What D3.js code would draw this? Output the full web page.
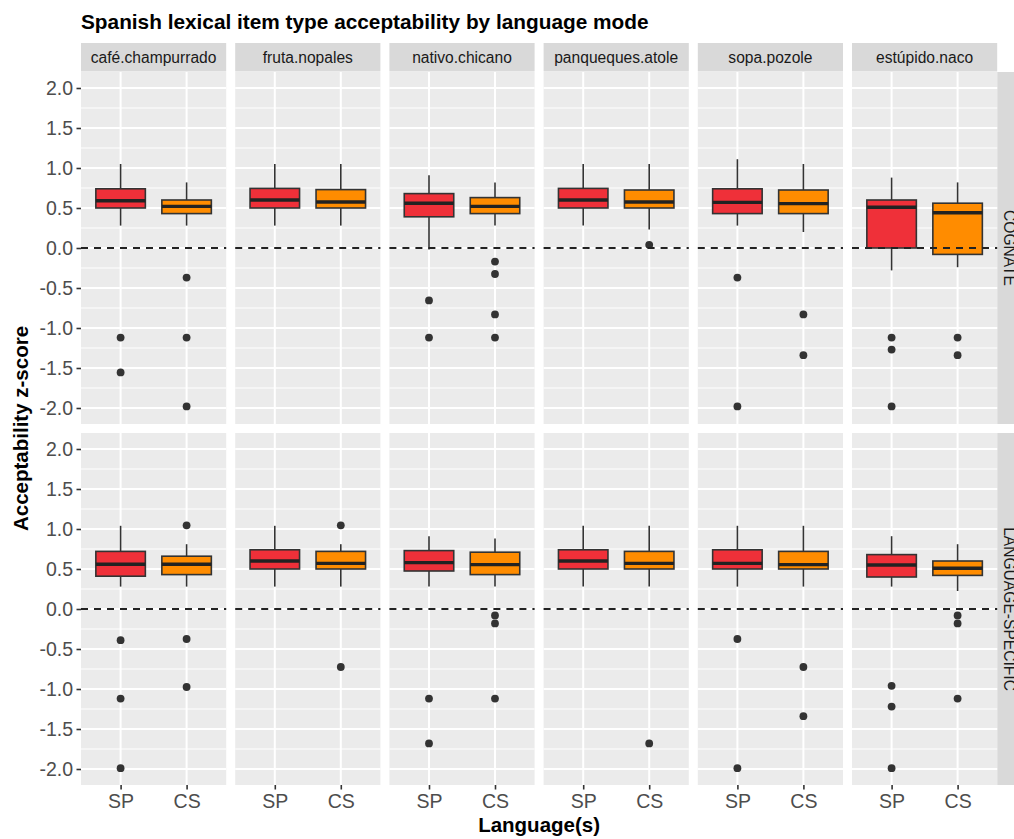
<!DOCTYPE html>
<html>
<head>
<meta charset="utf-8">
<script src="https://cdn.jsdelivr.net/npm/d3@7/dist/d3.min.js"></script>
<style>
  body { margin: 0; background: #fff; }
  text { font-family: "Liberation Sans", Arial, sans-serif; }
</style>
</head>
<body>
<svg width="1014" height="839"></svg>
<script>
const items = ['café.champurrado', 'fruta.nopales', 'nativo.chicano', 'panqueques.atole', 'sopa.pozole', 'estúpido.naco'];
const languages = ['SP', 'CS'];
const itemTypes = ['COGNATE', 'LANGUAGE-SPECIFIC'];
const yTicks = [-2, -1.5, -1, -0.5, 0, 0.5, 1, 1.5, 2];

// [lower whisker, q1, median, q3, upper whisker], one per item
const cognateSP = [
    [0.28, 0.50, 0.59, 0.74, 1.05],
    [0.28, 0.50, 0.60, 0.745, 1.05],
    [-0.02, 0.39, 0.56, 0.68, 0.91],
    [0.28, 0.50, 0.60, 0.745, 1.05],
    [0.28, 0.43, 0.57, 0.74, 1.11],
    [-0.28, 0.0, 0.51, 0.60, 0.88]
];
const cognateCS = [
    [0.28, 0.43, 0.52, 0.60, 0.82],
    [0.28, 0.50, 0.575, 0.73, 1.05],
    [0.28, 0.43, 0.52, 0.63, 0.82],
    [0.23, 0.50, 0.575, 0.725, 1.05],
    [0.20, 0.43, 0.555, 0.725, 1.05],
    [-0.24, -0.08, 0.44, 0.56, 0.82]
];
const specificSP = [
    [0.28, 0.41, 0.56, 0.72, 1.04],
    [0.28, 0.50, 0.60, 0.74, 1.04],
    [0.28, 0.475, 0.58, 0.73, 0.91],
    [0.28, 0.50, 0.60, 0.74, 1.04],
    [0.28, 0.50, 0.57, 0.74, 1.04],
    [0.28, 0.40, 0.55, 0.68, 0.91]
];
const specificCS = [
    [0.28, 0.43, 0.56, 0.66, 0.81],
    [0.28, 0.50, 0.57, 0.72, 0.81],
    [0.28, 0.43, 0.555, 0.71, 0.88],
    [0.28, 0.50, 0.57, 0.72, 1.04],
    [0.28, 0.50, 0.555, 0.72, 1.04],
    [0.225, 0.42, 0.51, 0.60, 0.81]
];

// outliers per item
const cognateSPOut = [[-1.12, -1.555], [], [-0.655, -1.12], [], [-0.37, -1.98], [-1.12, -1.27, -1.98]];
const cognateCSOut = [[-0.37, -1.12, -1.98], [], [-0.17, -0.325, -0.83, -1.12], [0.04], [-0.83, -1.34], [-1.12, -1.34]];
const specificSPOut = [[-0.39, -1.12, -1.99], [], [-1.12, -1.68], [], [-0.375, -1.99], [-0.96, -1.22, -1.99]];
const specificCSOut = [[1.046, -0.375, -0.975], [1.046, -0.725], [-0.08, -0.18, -1.12], [-1.68], [-0.725, -1.34], [-0.08, -0.18, -1.12]];

const stats = [[cognateSP, cognateCS], [specificSP, specificCS]];
const outliers = [[cognateSPOut, cognateCSOut], [specificSPOut, specificCSOut]];
const fills = { SP: '#EF3039', CS: '#FF8C00' };

const svgWidth = 1014;
const svgHeight = 839;
const left = 81;
const panelW = 145.2;
const gapX = 9;
const panelH = 352;
const rowTop = [72, 433];
const stripTop = 43;

const svg = d3.select('svg')
    .attr('width', svgWidth)
    .attr('height', svgHeight);

svg.append('rect')
    .attr('width', svgWidth)
    .attr('height', svgHeight)
    .attr('fill', '#fff');

const xScale = d3.scalePoint()
    .domain(languages)
    .range([0, panelW])
    .padding(0.6);

const yScale = d3.scaleLinear()
    .domain([-2.2, 2.2])
    .range([panelH, 0]);

const minorTicks = d3.range(-1.75, 2, 0.5);
const boxW = xScale.step() * 0.75;

// title
svg.append('text')
    .attr('x', left)
    .attr('y', 29)
    .attr('font-size', '20.8px')
    .attr('font-weight', 'bold')
    .attr('fill', '#000')
    .text('Spanish lexical item type acceptability by language mode');

// top strips
items.forEach((item, i) => {
    const px = left + i * (panelW + gapX);
    svg.append('rect')
        .attr('x', px)
        .attr('y', stripTop)
        .attr('width', panelW)
        .attr('height', 28.5)
        .attr('fill', '#D9D9D9');
    svg.append('text')
        .attr('x', px + panelW / 2)
        .attr('y', 63)
        .attr('text-anchor', 'middle')
        .attr('font-size', '15.6px')
        .attr('fill', '#1A1A1A')
        .text(item);
});

itemTypes.forEach((type, r) => {
    const py = rowTop[r];

    // right strip (cut by the page edge, as in the source figure)
    svg.append('rect')
        .attr('x', left + 6 * panelW + 5 * gapX)
        .attr('y', py)
        .attr('width', 29)
        .attr('height', panelH)
        .attr('fill', '#D9D9D9');
    svg.append('text')
        .attr('transform', `translate(1003.5, ${py + panelH / 2}) rotate(90)`)
        .attr('text-anchor', 'middle')
        .attr('font-size', '15.6px')
        .attr('fill', '#1A1A1A')
        .text(type);

    items.forEach((item, i) => {
        const px = left + i * (panelW + gapX);
        const g = svg.append('g')
            .attr('transform', `translate(${px}, ${py})`);

        g.append('rect')
            .attr('width', panelW)
            .attr('height', panelH)
            .attr('fill', '#EBEBEB');

        g.selectAll('.minor')
            .data(minorTicks)
            .enter().append('line')
            .attr('x1', 0)
            .attr('x2', panelW)
            .attr('y1', d => yScale(d))
            .attr('y2', d => yScale(d))
            .attr('stroke', '#fff')
            .attr('stroke-width', 1);

        g.selectAll('.major')
            .data(yTicks)
            .enter().append('line')
            .attr('x1', 0)
            .attr('x2', panelW)
            .attr('y1', d => yScale(d))
            .attr('y2', d => yScale(d))
            .attr('stroke', '#fff')
            .attr('stroke-width', 2);

        g.selectAll('.vmajor')
            .data(languages)
            .enter().append('line')
            .attr('x1', d => xScale(d))
            .attr('x2', d => xScale(d))
            .attr('y1', 0)
            .attr('y2', panelH)
            .attr('stroke', '#fff')
            .attr('stroke-width', 2);

        languages.forEach((lang, l) => {
            const s = stats[r][l][i];
            const cx = xScale(lang);

            g.append('line')
                .attr('x1', cx).attr('x2', cx)
                .attr('y1', yScale(s[4])).attr('y2', yScale(s[3]))
                .attr('stroke', '#333').attr('stroke-width', 1.6);
            g.append('line')
                .attr('x1', cx).attr('x2', cx)
                .attr('y1', yScale(s[1])).attr('y2', yScale(s[0]))
                .attr('stroke', '#333').attr('stroke-width', 1.6);

            g.append('rect')
                .attr('x', cx - boxW / 2)
                .attr('y', yScale(s[3]))
                .attr('width', boxW)
                .attr('height', yScale(s[1]) - yScale(s[3]))
                .attr('fill', fills[lang])
                .attr('stroke', '#333')
                .attr('stroke-width', 1.6);

            g.append('line')
                .attr('x1', cx - boxW / 2).attr('x2', cx + boxW / 2)
                .attr('y1', yScale(s[2])).attr('y2', yScale(s[2]))
                .attr('stroke', '#222').attr('stroke-width', 3.4);

            g.selectAll('.out' + l)
                .data(outliers[r][l][i])
                .enter().append('circle')
                .attr('cx', cx)
                .attr('cy', d => yScale(d))
                .attr('r', 3.9)
                .attr('fill', '#333');
        });

        g.append('line')
            .attr('x1', 0)
            .attr('x2', panelW)
            .attr('y1', yScale(0))
            .attr('y2', yScale(0))
            .attr('stroke', '#222')
            .attr('stroke-width', 2.2)
            .attr('stroke-dasharray', '7,6');

        if (r === 1) {
            const xAxis = g.append('g')
                .attr('transform', `translate(0, ${panelH})`)
                .call(d3.axisBottom(xScale).tickSize(4.5).tickPadding(5));
            xAxis.select('.domain').remove();
            xAxis.selectAll('line').attr('stroke', '#333').attr('stroke-width', 1.6);
            xAxis.selectAll('text')
                .attr('font-family', '"Liberation Sans", Arial, sans-serif')
                .attr('font-size', '19.5px')
                .attr('fill', '#4D4D4D');
        }
    });

    const yAxis = svg.append('g')
        .attr('transform', `translate(${left}, ${py})`)
        .call(d3.axisLeft(yScale).tickValues(yTicks).tickFormat(d3.format('.1f')).tickSize(4.5).tickPadding(3.5));
    yAxis.select('.domain').remove();
    yAxis.selectAll('line').attr('stroke', '#333').attr('stroke-width', 1.6);
    yAxis.selectAll('text')
        .attr('font-family', '"Liberation Sans", Arial, sans-serif')
        .attr('font-size', '19.5px')
        .attr('fill', '#4D4D4D')
        .text(d => d3.format('.1f')(d).replace('−', '-'));
});

svg.append('text')
    .attr('x', left + (6 * panelW + 5 * gapX) / 2)
    .attr('y', 832)
    .attr('text-anchor', 'middle')
    .attr('font-size', '20.5px')
    .attr('font-weight', 'bold')
    .attr('fill', '#000')
    .text('Language(s)');

svg.append('text')
    .attr('transform', `translate(28, ${(rowTop[0] + rowTop[1] + panelH) / 2}) rotate(-90)`)
    .attr('text-anchor', 'middle')
    .attr('font-size', '20.5px')
    .attr('font-weight', 'bold')
    .attr('fill', '#000')
    .text('Acceptability z-score');
</script>
</body>
</html>
